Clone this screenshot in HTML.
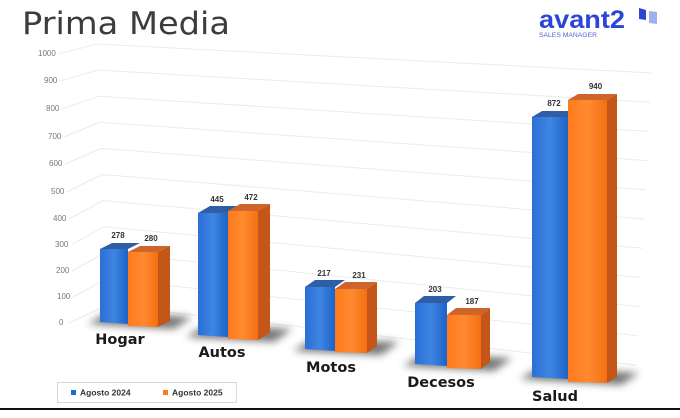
<!DOCTYPE html>
<html><head><meta charset="utf-8"><style>
body{margin:0;background:#fff;width:680px;height:413px;overflow:hidden;font-family:"Liberation Sans",sans-serif}
</style></head><body>
<svg id="s" width="680" height="413" viewBox="0 0 680 413" xmlns="http://www.w3.org/2000/svg">
<defs>
<linearGradient id="bf" x1="0" x2="1" y1="0" y2="0"><stop offset="0" stop-color="#2a6fd6"/><stop offset="0.5" stop-color="#3f85e2"/><stop offset="1" stop-color="#1d63c8"/></linearGradient>
<linearGradient id="of" x1="0" x2="1" y1="0" y2="0"><stop offset="0" stop-color="#ff7a1c"/><stop offset="0.5" stop-color="#ff8a30"/><stop offset="1" stop-color="#f56f12"/></linearGradient>
<filter id="bl" x="-50%" y="-50%" width="200%" height="200%"><feGaussianBlur stdDeviation="4"/></filter>
</defs>
<text x="22" y="34" font-size="31" fill="#3c3c3c" font-family="DejaVu Sans" textLength="208" lengthAdjust="spacingAndGlyphs">Prima Media</text>
<text x="539" y="28" font-size="25" fill="#2d45d6" font-weight="bold" font-family="Liberation Sans" textLength="86" lengthAdjust="spacingAndGlyphs">avant2</text>
<text x="539" y="37" font-size="6.5" fill="#4d63dc" font-family="Liberation Sans" textLength="58" lengthAdjust="spacingAndGlyphs">SALES MANAGER</text>
<polygon points="639,8 646,10 646,20 639,19" fill="#2d45d6"/>
<polygon points="649,11 657,12 657,24 649,23" fill="#9fb0ec"/>
<g id="g"></g>
<rect x="57.5" y="382.5" width="179" height="20" fill="#fff" stroke="#d8d8d8"/>
<rect x="71" y="390" width="5" height="5" fill="#1e6ad2"/>
<text x="80" y="395.5" font-size="8.5" fill="#333" font-weight="bold">Agosto 2024</text>
<rect x="163" y="390" width="5" height="5" fill="#ff7a1c"/>
<text x="172" y="395.5" font-size="8.5" fill="#333" font-weight="bold">Agosto 2025</text>
<rect x="0" y="408" width="680" height="2" fill="#111"/>
</svg>
<script>
var g=document.getElementById('g'),h='';
function P(pts,f,extra){return '<polygon points="'+pts.map(p=>p.join(',')).join(' ')+'" fill="'+f+'" '+(extra||'')+'/>';}
var labs=[[1000,38,56],[900,44,83],[800,46,111],[700,48,139],[600,49,166],[500,51,194],[400,53,221],[300,55,247],[200,56,273],[100,57,299],[0,59,325]];
labs.forEach(function(l,i){
 var t=i/10;
 var lx=l[1]+(l[0]>=1000?20:(l[0]>=100?16:10)), ly=l[2]-2;
 var bx=97+10*t, by=44+261*t;
 var rx=652-16*t, ry=73+292*t;
 h+='<polyline points="'+lx+','+ly+' '+bx+','+by+' '+rx+','+ry+'" fill="none" stroke="#ebebeb" stroke-width="1"/>';
 h+='<text x="'+l[1]+'" y="'+l[2]+'" font-size="8" fill="#777">'+l[0]+'</text>';
});
var G=[[100,128,158,249,252,322,327,12,-6,278,280,'Hogar',120,344],
[198,228,258,213,211,335,340,12,-7,445,472,'Autos',222,357],
[305,335,367,287,289,349,353,10,-7,217,231,'Motos',331,372],
[415,447,481,303,315,364,369,9,-7,203,187,'Decesos',441,387],
[532,568,607,117,100,377,383,10,-6,872,940,'Salud',555,401]];
G.forEach(function(b){
 var a=b[0],m=b[1],c=b[2],bt=b[3],ot=b[4],bb=b[5],ob=b[6],dx=b[7],dy=b[8];
 h+=P([[a-12,bb+2],[c+dx+4,ob+2],[c+dx+22,ob+dy-4],[a+8,bb-10]],'#555','filter="url(#bl)" opacity="0.8"');
 h+=P([[a,bt],[a+dx,bt+dy],[m+dx,bt+dy],[m,bt]],'#2f5ea6');
 h+=P([[a,bt],[m,bt],[m,bb+2],[a,bb]],'url(#bf)');
 h+=P([[m,ot],[m+dx,ot+dy],[c+dx,ot+dy],[c,ot]],'#d0652c');
 h+=P([[c,ot],[c+dx,ot+dy],[c+dx,ob+dy],[c,ob]],'#c4561a');
 h+=P([[m,ot],[c,ot],[c,ob],[m,ob-1]],'url(#of)');
 h+='<text x="'+((a+m)/2+4)+'" y="'+(bt-11)+'" font-size="8" font-weight="bold" fill="#333" text-anchor="middle">'+b[9]+'</text>';
 h+='<text x="'+((m+c)/2+8)+'" y="'+(ot-11)+'" font-size="8" font-weight="bold" fill="#333" text-anchor="middle">'+b[10]+'</text>';
 h+='<text x="'+b[12]+'" y="'+b[13]+'" font-size="14.5" font-weight="bold" fill="#1a1a1a" text-anchor="middle" font-family="DejaVu Sans">'+b[11]+'</text>';
});
g.innerHTML=h;
</script>
</body></html>
